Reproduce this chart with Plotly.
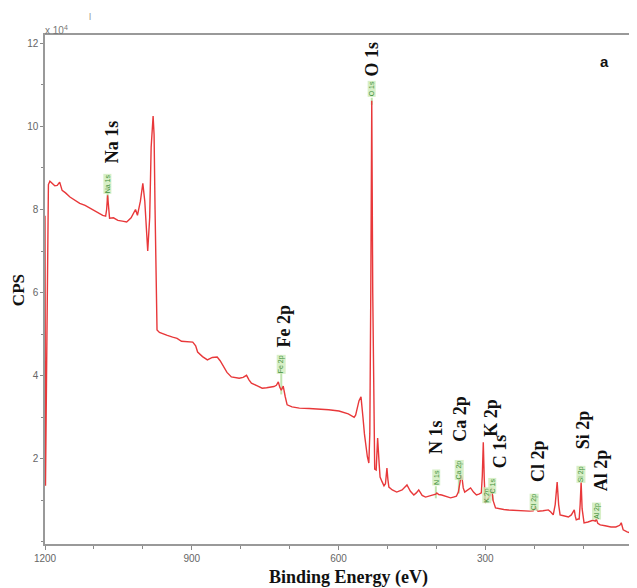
import numpy as np
import plotly.graph_objects as go

# ---- spectrum data (binding energy in eV, CPS in units of 1e4) ----
be = [1200, 1199, 1197, 1195, 1193, 1190, 1185, 1180, 1175, 1170,
      1165, 1158, 1149, 1140, 1129, 1118, 1108, 1095, 1082, 1076,
      1074, 1072, 1070, 1068, 1060, 1051, 1042, 1033, 1024, 1015,
      1011, 1005, 1000, 996, 992, 990, 986, 983, 979, 977,
      975, 973, 971, 966, 962, 950, 939, 930, 921, 910,
      898, 892, 888, 878, 868, 858, 848, 842, 837, 828,
      819, 811, 803, 795, 788, 783, 778, 767, 756, 747,
      738, 732, 727, 725, 723, 720, 717, 715, 713, 709,
      705, 695, 680, 660, 640, 620, 599, 580, 568, 565,
      562, 558, 554, 552, 550, 547, 544, 541, 538, 536,
      534, 532, 530, 528, 526, 523, 520, 517, 515, 511,
      507, 504, 501, 499, 497, 490, 481, 470, 460, 453,
      446, 441, 436, 429, 422, 410, 401, 399, 395, 389,
      380, 371, 365, 359, 355, 352, 349, 347, 345, 342,
      336, 330, 324, 318, 313, 308, 306, 304, 302, 300,
      297, 293, 290, 287, 284, 279, 270, 262, 253, 240,
      229, 218, 210, 202, 200, 198, 195, 192, 182, 171,
      166, 161, 157, 153, 150, 147, 140, 130, 124, 118,
      116, 114, 110, 108, 106, 104, 102, 98, 90, 80,
      75, 73, 70, 65, 55, 43, 33, 25, 22, 20,
      18, 10, 4, 1, 0]
cps = [7.85, 1.35, 3.8, 7.6, 8.6, 8.68, 8.62, 8.57, 8.58, 8.66,
       8.46, 8.40, 8.30, 8.24, 8.15, 8.10, 8.03, 7.95, 7.86, 7.84,
       8.0, 8.34, 8.0, 7.79, 7.80, 7.74, 7.72, 7.70, 7.80, 8.00,
       7.86, 8.2, 8.63, 8.2, 7.4, 7.0, 7.8, 9.5, 10.25, 9.8,
       8.0, 6.4, 5.1, 5.04, 5.02, 4.97, 4.93, 4.90, 4.83, 4.82,
       4.81, 4.72, 4.57, 4.46, 4.38, 4.44, 4.45, 4.36, 4.25, 4.08,
       3.97, 3.95, 3.94, 3.96, 4.01, 3.90, 3.82, 3.76, 3.70, 3.71,
       3.73, 3.74, 3.77, 3.80, 3.85, 3.72, 3.65, 3.70, 3.75, 3.50,
       3.30, 3.25, 3.22, 3.21, 3.20, 3.18, 3.15, 3.08, 3.00, 3.05,
       3.20, 3.40, 3.49, 3.30, 3.00, 2.6, 2.3, 2.05, 1.9, 2.6,
       6.0, 10.62, 6.0, 2.6, 1.75, 1.73, 2.5, 1.9, 1.56, 1.45,
       1.35, 1.40, 1.78, 1.50, 1.32, 1.25, 1.20, 1.25, 1.37, 1.22,
       1.13, 1.18, 1.25, 1.12, 1.08, 1.12, 1.15, 1.18, 1.14, 1.13,
       1.09, 1.06, 1.08, 1.10, 1.20, 1.40, 1.61, 1.50, 1.30, 1.20,
       1.26, 1.30, 1.20, 1.13, 1.15, 1.18, 1.6, 2.40, 1.5, 0.94,
       1.0, 1.08, 1.12, 1.30, 1.0, 0.82, 0.79, 0.78, 0.77, 0.76,
       0.75, 0.75, 0.74, 0.75, 0.80, 0.84, 0.78, 0.74, 0.75, 0.77,
       0.72, 0.65, 0.9, 1.44, 0.9, 0.65, 0.63, 0.60, 0.65, 0.77,
       0.62, 0.53, 0.55, 0.55, 0.9, 1.44, 0.8, 0.46, 0.48, 0.52,
       0.50, 0.55, 0.45, 0.41, 0.39, 0.36, 0.36, 0.40, 0.46, 0.38,
       0.29, 0.24, 0.22, 0.18, 0.05]

# ---- peak identification ----
peak_names = ["Na 1s", "Fe 2p", "O 1s", "N 1s", "Ca 2p", "K 2p", "C 1s", "Cl 2p", "Si 2p", "Al 2p"]
peak_be = [1072, 717, 532, 401, 354, 297, 285, 200, 104, 73]

# label layout (bold label x/y, small tag y) in axis units
bold_x = [1063, 711, 532, 401, 352, 289, 269, 192, 100, 63]
bold_y = [9.62, 5.19, 11.63, 2.52, 2.96, 2.98, 2.19, 1.95, 2.69, 1.73]
tag_y = [8.62, 4.28, 10.91, 1.56, 1.74, 1.13, 1.35, 0.96, 1.63, 0.75]

x_tickvals = [1200, 900, 600, 300, 0]
y_tickvals = [2, 4, 6, 8, 10, 12]

# page geometry (the page body has an 8px margin)
OFF = 8
W, H = 637 - OFF, 588 - OFF
PL, PR, PT, PB = 45, 635, 35, 544   # plot box in page pixels
L, R, T, B = PL - OFF, W + OFF - PR, PT - OFF, H + OFF - PB


def px2paper(px, py):
    return (px - PL) / (PR - PL), (PB - py) / (PB - PT)


fig = go.Figure()

# green peak markers
be_arr = np.array(be[::-1], dtype=float)
cps_arr = np.array(cps[::-1], dtype=float)
shapes = []
for pb, ty in zip(peak_be, tag_y):
    ybase = float(np.interp(pb, be_arr, cps_arr))
    top = ty - 0.22
    if top > ybase:
        shapes.append(dict(type="line", xref="x", yref="y", x0=pb, x1=pb, y0=ybase - 0.1, y1=top,
                           line=dict(color="rgba(140,205,110,0.55)", width=2), layer="below"))

fig.add_trace(go.Scatter(x=be, y=cps, mode="lines",
                         line=dict(color="#e8383a", width=1.4), hoverinfo="skip", showlegend=False))

ann = []
for name, bx, by, pb, ty in zip(peak_names, bold_x, bold_y, peak_be, tag_y):
    ann.append(dict(x=bx, y=by, xref="x", yref="y", text="<b>%s</b>" % name, showarrow=False,
                    textangle=-90, font=dict(family="Liberation Serif", size=18, color="#111")))
    ann.append(dict(x=pb, y=ty, xref="x", yref="y", text=name, showarrow=False,
                    textangle=-90, bgcolor="rgba(205,235,185,0.8)", borderpad=0,
                    font=dict(family="Liberation Sans", size=7, color="#3f8f3a")))

extra = [
    (43, 30, "x 10<sup>4</sup>", 0, "left", "middle", dict(family="Liberation Sans", size=10, color="#777")),
    (18, 290, "<b>CPS</b>", -90, "center", "middle", dict(family="Liberation Serif", size=17, color="#111")),
    (350, 577, "<b>Binding Energy (eV)</b>", 0, "center", "middle", dict(family="Liberation Serif", size=18, color="#111")),
    (607, 61, "<b>a</b>", 0, "center", "middle", dict(family="Liberation Sans", size=15, color="#111")),
    (90, 9, "|", 0, "center", "top", dict(family="Liberation Sans", size=8, color="#777")),
]
for px, py, txt, ang, xa, ya, fnt in extra:
    xp, yp = px2paper(px, py)
    ann.append(dict(x=xp, y=yp, xref="paper", yref="paper", text=txt, showarrow=False,
                    textangle=ang, xanchor=xa, yanchor=ya, font=fnt))

fig.update_layout(
    width=W, height=H,
    margin=dict(l=L, r=R, t=T, b=B),
    paper_bgcolor="white", plot_bgcolor="white",
    annotations=ann, shapes=shapes,
    xaxis=dict(range=[1200, 0], tickvals=x_tickvals, ticktext=[str(v) for v in x_tickvals],
               ticks="outside", ticklen=4, tickcolor="#888", ticklabeloverflow="allow",
               minor=dict(dtick=100, ticks="outside", ticklen=3, tickcolor="#888"),
               showgrid=False, zeroline=False, showline=True, mirror=True,
               linecolor="#999", linewidth=1.5,
               tickfont=dict(family="Liberation Sans", size=10, color="#666")),
    yaxis=dict(range=[-0.05, 12.2], tickvals=y_tickvals, ticktext=[str(v) for v in y_tickvals],
               ticks="outside", ticklen=3, tickcolor="#888",
               minor=dict(dtick=1, ticks="outside", ticklen=2, tickcolor="#888"),
               showgrid=False, zeroline=False, showline=True, mirror=True,
               linecolor="#999", linewidth=1.5,
               tickfont=dict(family="Liberation Sans", size=10, color="#666")),
)

fig.write_html("out.html")
